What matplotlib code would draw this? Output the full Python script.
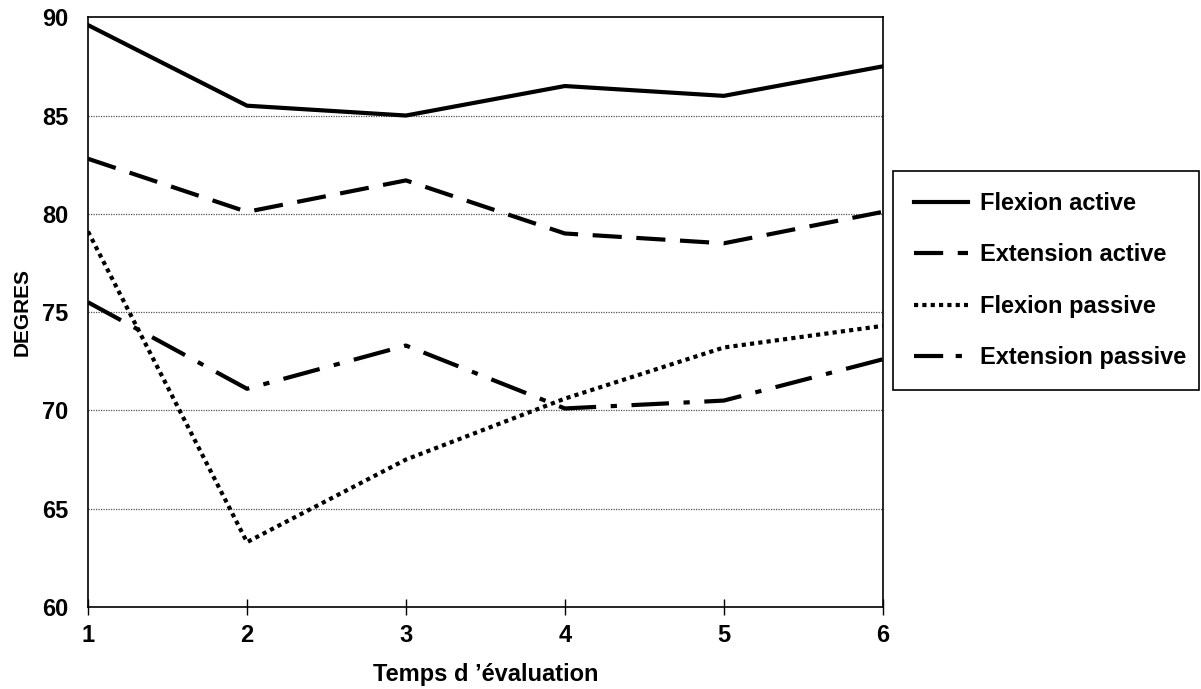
import matplotlib
matplotlib.use("Agg")
import matplotlib.pyplot as plt

plt.rcParams['font.family'] = ['Liberation Sans', 'DejaVu Sans']
plt.rcParams['font.weight'] = 'bold'

# data
temps = [1, 2, 3, 4, 5, 6]
flexion_active = [89.6, 85.5, 85.0, 86.5, 86.0, 87.5]
extension_active = [82.8, 80.1, 81.7, 79.0, 78.5, 80.1]
flexion_passive = [79.1, 63.3, 67.5, 70.6, 73.2, 74.3]
extension_passive = [75.5, 71.1, 73.3, 70.1, 70.5, 72.6]
labels = ['Flexion active', 'Extension active', 'Flexion passive', 'Extension passive']
yticks = [60, 65, 70, 75, 80, 85, 90]

fig = plt.figure(figsize=(12.01, 6.89), dpi=100)
ax = fig.add_axes([0.0733, 0.119, 0.6617, 0.856])

styles = [
    dict(linestyle='-'),
    dict(linestyle=(0, (7, 3.5))),
    dict(linestyle=(0, (1, 1)), dash_capstyle='butt'),
    dict(linestyle=(0, (9, 3.5, 1.5, 3.5))),
]
for series, lab, st in zip([flexion_active, extension_active, flexion_passive, extension_passive],
                           labels, styles):
    ax.plot(temps, series, color='black', lw=3, label=lab, **st)

ax.set_xlim(1, 6)
ax.set_ylim(60, 90)
ax.set_xticks(temps)
ax.set_yticks(yticks)
for y in yticks[1:-1]:
    ax.axhline(y, color='#555555', lw=0.9, linestyle=(0, (1, 1)), zorder=0)
ax.tick_params(axis='x', direction='inout', length=12, width=1, labelsize=17, pad=6)
ax.tick_params(axis='y', length=0, labelsize=17, pad=14)
for sp in ax.spines.values():
    sp.set_linewidth(1.2)

ax.set_xlabel("Temps d \u2019\u00e9valuation", fontsize=17, fontweight='bold', labelpad=12)
ax.set_ylabel("DEGRES", fontsize=15, fontweight='bold', labelpad=8)

leg = fig.legend(loc='upper left', bbox_to_anchor=(0.7435, 0.752, 0.2545, 0.0), mode='expand',
                 borderaxespad=0, fontsize=17, handlelength=2.3, handletextpad=0.5,
                 labelspacing=1.2, borderpad=0.9, fancybox=False, framealpha=1,
                 edgecolor='black')
leg.get_frame().set_linewidth(1.2)
for line in leg.get_lines():
    line.set_linewidth(3)
leg.get_lines()[3].set_linestyle((0, (7, 3, 1.5, 3)))

fig.savefig('out.png', dpi=100)
